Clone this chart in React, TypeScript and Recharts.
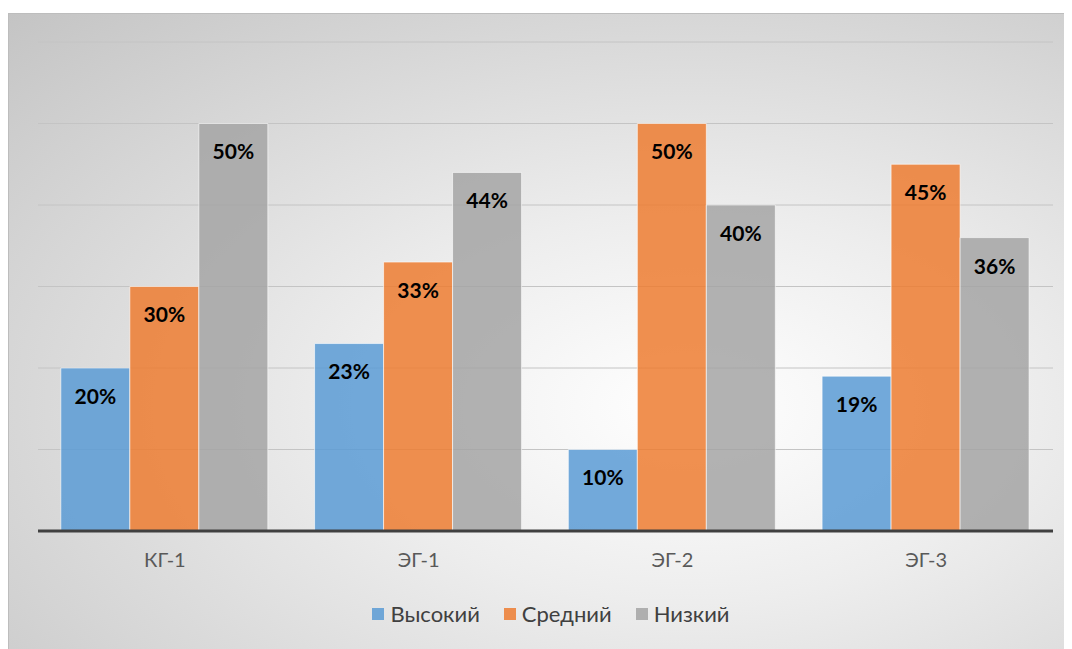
import { BarChart, Bar, XAxis, YAxis, CartesianGrid, LabelList } from 'recharts';

const GROUPS = ['КГ-1', 'ЭГ-1', 'ЭГ-2', 'ЭГ-3'];
const HIGH = [20, 23, 10, 19];
const MEDIUM = [30, 33, 50, 45];
const LOW = [50, 44, 40, 36];
const Y_TICKS = [0, 10, 20, 30, 40, 50, 60];

const SERIES = [
  { key: 'high', name: 'Высокий', color: '#5B9BD5' },
  { key: 'medium', name: 'Средний', color: '#ED7D31' },
  { key: 'low', name: 'Низкий', color: '#A5A5A5' },
];

const FONT = 'Lato, "Open Sans", sans-serif';
const WIDTH = 1064;
const HEIGHT = 636;

const data = GROUPS.map((group, i) => ({
  group,
  high: HIGH[i],
  medium: MEDIUM[i],
  low: LOW[i],
}));

// legend sits below the axis labels, drawn as plain html
function ChartLegend() {
  return (
    <div
      style={{
        position: 'absolute',
        top: 586,
        left: 20,
        width: WIDTH - 20,
        display: 'flex',
        justifyContent: 'center',
        gap: 24,
        fontFamily: FONT,
      }}
    >
      {SERIES.map((s) => (
        <div key={s.key} style={{ display: 'flex', alignItems: 'center', gap: 6 }}>
          <span
            style={{
              width: 12,
              height: 12,
              background: s.color,
              opacity: 0.85,
              display: 'inline-block',
            }}
          />
          <span style={{ fontSize: 22, color: '#404040' }}>{s.name}</span>
        </div>
      ))}
    </div>
  );
}

export default function App() {
  return (
    <div
      style={{
        position: 'relative',
        width: WIDTH,
        height: HEIGHT,
        marginTop: 5,
        borderTop: '1px solid #bdbdbd',
        borderLeft: '1px solid #bdbdbd',
        boxSizing: 'border-box',
        background:
          'radial-gradient(ellipse farthest-corner at 64% 62%, #ffffff 0%, #ededed 35%, #c4c4c4 100%)',
      }}
    >
      <BarChart
        width={WIDTH - 1}
        height={HEIGHT - 1}
        data={data}
        margin={{ top: 28, right: 19, bottom: 88, left: 29 }}
        barCategoryGap="9%"
        barGap={0}
      >
        <CartesianGrid vertical={false} stroke="#c4c4c4" />
        <YAxis hide domain={[0, 60]} ticks={Y_TICKS} />
        <XAxis
          dataKey="group"
          tickLine={false}
          axisLine={{ stroke: '#404040', strokeWidth: 3 }}
          tickMargin={16}
          tick={{ fill: '#595959', fontSize: 20, fontFamily: FONT }}
        />
        {SERIES.map((s) => (
          <Bar
            key={s.key}
            dataKey={s.key}
            name={s.name}
            fill={s.color}
            fillOpacity={0.85}
            stroke="#ffffff"
            strokeOpacity={0.6}
            strokeWidth={1}
            isAnimationActive={false}
          >
            <LabelList
              dataKey={s.key}
              position="insideTop"
              offset={21}
              formatter={(v: number) => `${v}%`}
              style={{ fontFamily: FONT, fontSize: 21, fontWeight: 700, fill: '#000000' }}
            />
          </Bar>
        ))}
      </BarChart>
      <ChartLegend />
    </div>
  );
}
